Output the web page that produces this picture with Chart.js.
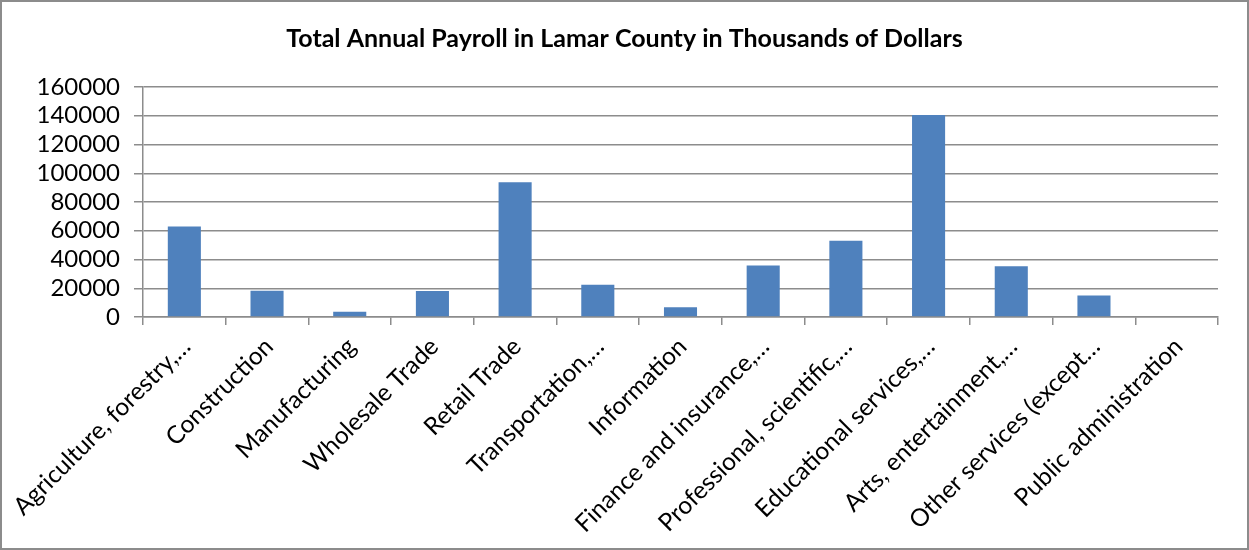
<!DOCTYPE html>
<html>
<head>
<meta charset="utf-8">
<script src="https://cdn.jsdelivr.net/npm/chart.js@4/dist/chart.umd.min.js"></script>
<style>
  html, body { margin: 0; padding: 0; background: #fff; }
  #frame { width: 1249px; height: 550px; box-sizing: border-box; border: 2px solid #8c8c8c; background: #fff; }
  #frame canvas { display: block; }
</style>
</head>
<body>
<div id="frame"><canvas id="payroll" width="1245" height="546"></canvas></div>
<script>
// Industry sectors (labels as shown on the axis, truncated with ellipses)
const categories = [
  "Agriculture, forestry,\u2026",
  "Construction",
  "Manufacturing",
  "Wholesale Trade",
  "Retail Trade",
  "Transportation,\u2026",
  "Information",
  "Finance and insurance,\u2026",
  "Professional, scientific,\u2026",
  "Educational services,\u2026",
  "Arts, entertainment,\u2026",
  "Other services (except\u2026",
  "Public administration"
];

// Total annual payroll, thousands of dollars
const payroll = [63000, 18300, 3700, 18100, 93800, 22500, 6700, 35800, 53000, 140500, 35300, 15000, 0];

// Value axis ticks
const yTicks = [0, 20000, 40000, 60000, 80000, 100000, 120000, 140000, 160000];

const titleText = "Total Annual Payroll in Lamar County in Thousands of Dollars";

const gridGray = "#8c8c8c";
const fontFamily = "Lato, 'Open Sans', sans-serif";

new Chart(document.getElementById("payroll"), {
  type: "bar",
  data: {
    labels: categories,
    datasets: [{
      data: payroll,
      backgroundColor: "#4f81bd",
      borderWidth: 0,
      categoryPercentage: 1.0,
      barPercentage: 0.4
    }]
  },
  options: {
    responsive: false,
    animation: false,
    // symmetric side padding keeps the title centred on the canvas
    layout: { padding: { left: 29, right: 29, top: 0, bottom: 0 } },
    plugins: {
      legend: { display: false },
      tooltip: { enabled: false },
      title: {
        display: true,
        text: titleText,
        color: "#000",
        font: { family: fontFamily, size: 25, weight: "bold" },
        padding: { top: 22, bottom: 33 }
      }
    },
    scales: {
      x: {
        grid: {
          display: true,
          drawOnChartArea: false,
          drawTicks: true,
          tickLength: 8,
          color: gridGray,
          lineWidth: 1.5,
          offset: true
        },
        border: { display: true, color: gridGray, width: 1.5 },
        ticks: {
          autoSkip: false,
          minRotation: 45,
          maxRotation: 45,
          color: "#000",
          padding: 7,
          labelOffset: 2,
          font: { family: fontFamily, size: 24.5 }
        },
        afterFit: (scale) => { scale.height = 231; }
      },
      y: {
        min: 0,
        max: 160000,
        afterBuildTicks: (scale) => { scale.ticks = yTicks.map(v => ({ value: v })); },
        grid: {
          color: gridGray,
          lineWidth: 1.5,
          drawTicks: true,
          tickLength: 9
        },
        border: { display: true, color: gridGray, width: 1.5 },
        ticks: {
          autoSkip: false,
          color: "#000",
          padding: 14,
          font: { family: fontFamily, size: 24 },
          callback: (v) => String(v)
        },
        afterFit: (scale) => { scale.width = 112; }
      }
    }
  }
});
</script>
</body>
</html>
